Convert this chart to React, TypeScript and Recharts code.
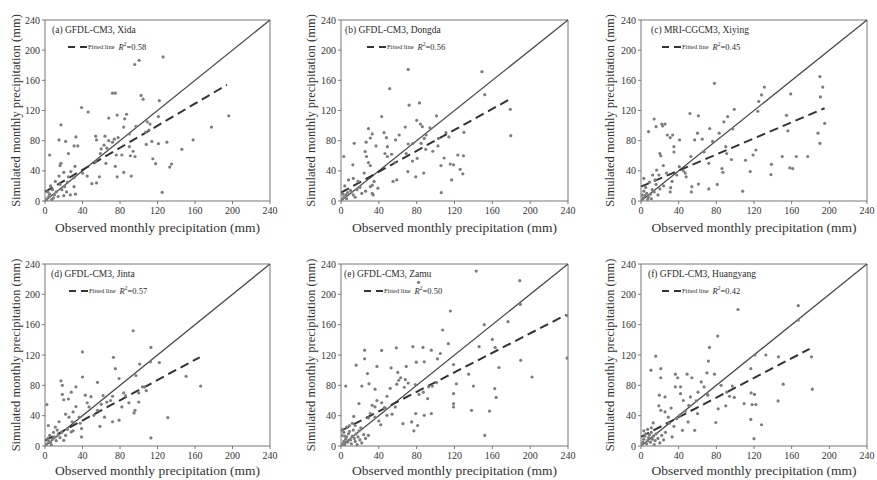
import { ScatterChart, Scatter, XAxis, YAxis, ReferenceLine, Legend } from "recharts";

const FONT = '"Liberation Serif", "Times New Roman", serif';

const axisTicks = [0, 40, 80, 120, 160, 200, 240];

const panelTitles = [
  "(a) GFDL-CM3, Xida",
  "(b) GFDL-CM3, Dongda",
  "(c) MRI-CGCM3, Xiying",
  "(d) GFDL-CM3, Jinta",
  "(e) GFDL-CM3, Zamu",
  "(f) GFDL-CM3, Huangyang",
];

const rSquared = ["0.58", "0.56", "0.45", "0.57", "0.50", "0.42"];

// fitted line end points: [obs0, sim0, obs1, sim1]
const fitLines = [
  [0, 12, 194, 154],
  [0, 11, 180, 136],
  [0, 19, 195, 123],
  [0, 7, 165, 117],
  [0, 20, 238, 173],
  [0, 12, 179, 128],
];

// observed, simulated (mm)
const xidaPts = [
  [95.7, 181], [100.4, 186.5], [126, 191], [72, 143], [75, 143], [39, 124], [46, 118], [102.5, 140],
  [104.6, 135], [122, 133], [87, 115], [77, 114], [68, 110], [85, 109], [17, 101], [97, 99], [121, 112],
  [109, 105], [112, 102], [84, 98], [111, 94], [107.5, 91.5], [130, 78], [121, 76], [108, 75], [114, 79],
  [74, 82], [78, 84], [64, 86], [54, 86], [55, 81], [33, 85], [15, 81], [22, 79], [31, 73], [35, 73],
  [25, 63], [63, 74], [66, 70], [59, 63], [60, 69], [76, 61], [82, 61], [90, 89], [90, 72], [94, 66],
  [91, 60], [96, 59], [177.5, 98], [196, 113], [158, 81], [146, 68.5], [115, 56], [118, 49.5], [135, 49],
  [133, 45], [125, 11.5], [40, 37], [45, 33], [50, 23], [55, 24], [58, 32], [75, 46], [77, 32], [84, 38],
  [92, 33], [54, 52], [65, 50], [17, 50], [16, 47], [20, 38], [15, 33], [16, 22], [25, 32], [27.5, 39],
  [32, 46], [31, 31], [31, 19], [32.5, 9], [5, 61], [68, 80], [72, 78], [2, 3], [4, 6], [5, 9], [9, 4],
  [10, 8], [12, 12], [2, 1], [1, 0.5], [7, 2], [14, 6], [18, 15], [21, 19], [23, 12], [27, 8], [20, 7],
  [3, 12], [8, 15], [6, 20], [11, 26], [24, 25],
];

const dongdaPts = [
  [71, 174.5], [149, 171.5], [152, 141], [179, 121.5], [179.5, 86.6], [51.5, 149], [72, 127], [83, 130],
  [43, 112], [101, 113], [29, 96], [68, 98], [80, 107], [84, 102], [86, 98.5], [61.5, 87.5], [45.5, 90.6],
  [33, 89], [31, 83.5], [37, 73], [48, 84], [49, 72], [46.5, 63], [49, 59], [14, 76.5], [25.5, 65.5],
  [27, 59], [26.6, 78], [3, 59], [12.6, 48], [24.5, 37], [31, 47], [29, 51], [53.5, 62], [57.7, 81],
  [71, 75.6], [76, 76.5], [69, 63], [75.6, 53], [70.7, 39], [79, 32], [80.5, 56.6], [84.7, 76.5], [88, 83],
  [90, 87.5], [89.6, 68.5], [94, 97], [87.5, 37], [97, 66], [102.5, 73], [103, 83], [105.7, 47], [106, 11],
  [109, 57], [111, 90.6], [114, 85], [115.5, 49], [117, 28], [119, 48], [123.5, 61], [126, 42], [128.8, 36],
  [129.5, 60], [130, 91], [57, 51], [55, 26], [59, 28], [33, 10], [1, 2], [3, 5], [5, 8], [7, 11], [10, 14],
  [11, 12], [13, 8], [15, 5], [17, 15], [20, 18], [22, 10], [26, 13], [31, 19], [33, 21], [35, 26], [39, 17],
  [34, 8], [18, 26], [13, 30], [8, 28], [4, 20], [6, 3], [2, 9],
];

const xiyingPts = [
  [190, 165], [193, 151], [190.5, 138], [195, 103], [188, 90], [190, 76.5], [131, 151], [128, 140.6],
  [125, 132], [124, 119], [159, 142], [154.5, 113.6], [156, 93], [158, 44], [161, 43], [150, 59], [165, 59],
  [177, 59], [138, 35], [138.5, 48.6], [99, 121.5], [92, 112], [88, 105], [97.5, 95.5], [78, 156], [52, 116],
  [61, 113], [57, 81], [60, 90], [65, 82], [73, 96], [76, 79], [83, 90], [90, 72], [91, 63], [96, 55],
  [86, 43], [87, 38], [81, 22], [72, 16], [72, 50], [67, 65], [53, 59], [54, 19], [53.5, 12], [61, 22.5],
  [41, 81], [31, 84], [33.6, 87.5], [28, 87.5], [23, 99.5], [25.5, 102], [22, 102], [14, 108.7], [16, 98.5],
  [8, 92], [35, 72], [35, 65], [20, 63], [21, 60], [23.7, 47], [27, 37], [19, 34.5], [16.6, 41], [12.4, 34.5],
  [33, 26], [31.5, 17.7], [31, 12], [38, 34.5], [40.6, 45.5], [48, 32], [108, 13], [116, 39], [119, 61],
  [122, 67.6], [111, 54], [45, 40], [47, 37], [1, 1], [2, 4], [4, 7], [6, 10], [3, 13], [8, 5], [10, 9],
  [12, 15], [5, 18], [14, 12], [16, 22], [9, 25], [18, 8], [20, 16], [1, 8], [7, 2], [11, 3], [24, 20],
  [3, 30], [15, 28],
];

const jintaPts = [
  [94, 152], [113, 130], [40, 124], [73, 117], [75, 102], [112.5, 111], [122, 110], [101, 108], [17, 86],
  [40, 91], [56, 84], [79, 89], [97, 93], [150.5, 92], [166, 79], [18.5, 80], [18.5, 68], [33, 78], [28, 71],
  [25, 62], [20, 61], [49, 65], [43, 67], [47, 51.5], [62, 66.5], [72, 65.6], [70, 60], [72, 32], [79, 34],
  [82, 51.5], [89.5, 57], [96, 47], [95, 43.6], [100, 58], [104, 78], [131, 37.4], [113, 10.6], [100, 70],
  [2, 54.6], [3.5, 27], [11, 25], [15, 32], [25.6, 38], [29, 32], [36.5, 38], [37.6, 30], [39, 23], [39, 12],
  [52, 40.5], [56, 47], [58.6, 26], [63.5, 38], [20, 7.5], [28, 18.5], [22, 42], [30, 45], [33, 52], [45, 57],
  [60, 55], [66, 58], [84, 70], [86, 66], [108, 73], [106, 78], [1, 1], [2, 3], [4, 6], [6, 4], [8, 9],
  [10, 12], [12, 7], [14, 15], [3, 10], [5, 14], [16, 11], [18, 18], [22, 14], [7, 1], [9, 18], [24, 22],
  [30, 20], [13, 21],
];

const zamuPts = [
  [143, 230.7], [189, 218], [82, 215.8], [189.6, 186.7], [115.6, 178], [107.5, 153], [151.5, 160],
  [176.6, 164], [239, 172], [160, 140.5], [163, 130], [146, 131], [113.5, 135], [105, 122], [95.5, 126.4],
  [86.7, 130], [76, 131], [58.5, 129.5], [43, 126], [25, 126.4], [25, 115], [16, 106.6], [38, 105], [53, 103],
  [60, 97], [69, 105], [79.6, 110.5], [88, 111], [102, 115], [119, 107.4], [119, 69], [119, 56], [119, 51.5],
  [122, 82], [135, 94.7], [140, 79], [162.5, 75.7], [164, 64], [167, 103.5], [190, 113], [202, 91], [239, 116],
  [138, 47], [157, 46], [152, 14], [28, 95.5], [22, 79], [29.6, 82], [36, 75], [52, 76], [59, 81.5],
  [61, 86.7], [63, 90], [68, 87.6], [67, 77.5], [71, 83], [78.6, 81], [82.5, 68], [87, 71], [92.7, 78],
  [91.6, 62.5], [96.5, 79], [101, 83.7], [95.5, 42.7], [88, 40.5], [74.7, 31.7], [79, 42.7], [77, 20], [81, 27],
  [65.5, 29.5], [57.4, 51.5], [54, 42], [48.6, 65.6], [45.8, 50.6], [43, 57], [38, 60], [36, 51.5], [33, 53.7],
  [31, 42.7], [36, 38], [29, 37], [40, 33], [42, 28], [48.6, 40.5], [19, 56], [13.4, 39], [5, 79], [29, 14],
  [1, 1], [2, 3], [3, 6], [4, 2], [5, 9], [6, 12], [7, 5], [8, 16], [9, 19], [10, 8], [11, 3], [12, 13],
  [13, 21], [14, 10], [15, 6], [16, 16], [17, 2], [18, 12], [19, 20], [20, 8], [21, 24], [22, 4], [24, 15],
  [26, 10], [3, 18], [2, 22], [6, 25], [9, 27], [12, 30], [15, 27], [1, 14], [4, 13],
];

const huangyangPts = [
  [167, 185], [167, 166], [103, 180], [81.5, 145], [72.7, 130], [71.6, 112], [15.6, 118.5], [121, 120],
  [132.6, 120], [146, 117.6], [181, 117.6], [182, 75], [151, 81.5], [145.6, 59.5], [116.6, 102], [120.5, 68],
  [117, 70], [118, 54.6], [122, 54.6], [116.6, 35], [128, 28], [109.5, 56], [120, 9.7], [99, 64], [97, 79],
  [85, 80], [78, 94.7], [90, 53], [82, 49], [79.4, 31], [70.5, 68], [70, 96.5], [64, 84.5], [67, 78],
  [60.6, 71], [58.5, 59.5], [52.5, 64.7], [50.7, 53.7], [47, 46], [42, 69], [42, 78], [36.5, 78], [39, 90],
  [36.5, 94.7], [49, 94.7], [54, 90], [25.5, 64.7], [19.5, 67], [19, 53], [21, 47], [25.5, 45], [29, 38],
  [30, 30], [35, 26], [38, 36], [33, 12], [57, 20.7], [50, 31.7], [44, 20.7], [21, 90], [21, 102], [10.6, 100],
  [13, 30.4], [41, 40.5], [60, 42.7], [71, 67], [91, 71], [94, 65.6], [32, 50], [45, 60], [1, 2], [2, 5],
  [3, 9], [4, 13], [5, 16], [6, 3], [7, 7], [8, 11], [9, 15], [10, 5], [11, 18], [12, 9], [13, 13], [14, 2],
  [15, 7], [16, 16], [18, 10], [20, 4], [22, 14], [24, 8], [26, 18], [3, 20], [7, 22], [11, 24],
];

const panelPoints = [xidaPts, dongdaPts, xiyingPts, jintaPts, zamuPts, huangyangPts];

// layout
const cols = [
  { left: 0, width: 290, right: 20, yTitle: 16 },
  { left: 296, width: 290, right: 18, yTitle: 15 },
  { left: 596, width: 281, right: 10, yTitle: 13.5 },
];
const rows = [
  { top: 0, height: 240, axisH: 39, xTitle: 8 },
  { top: 244, height: 236, axisH: 34, xTitle: 5 },
];
const titleOffsets = [7, 4, 10, 6, 3, 7];
const dashOffsets = [23, 26, 21, 24, 23, 21];

const dot = (p: any) => <circle cx={p.cx} cy={p.cy} r={1.6} fill="#7d7d7d" />;

function PanelLegend({ idx }: { idx: number }) {
  return (
    <div style={{ fontFamily: FONT, color: "#2a2a2a", lineHeight: 1 }}>
      <div style={{ fontSize: 9.5, height: 12, lineHeight: "12px", marginLeft: titleOffsets[idx], whiteSpace: "nowrap" }}>
        {panelTitles[idx]}
      </div>
      <div style={{ display: "flex", alignItems: "center", marginTop: 6, marginLeft: dashOffsets[idx], height: 10, whiteSpace: "nowrap" }}>
        <svg width={19} height={4} style={{ display: "block" }}>
          <line x1={0} y1={2} x2={19} y2={2} stroke="#333" strokeWidth={2} strokeDasharray="7 5" />
        </svg>
        <span style={{ fontSize: 6.5, marginLeft: 1 }}>Fitted line</span>
        <span style={{ fontSize: 8.5, marginLeft: 4 }}>
          <i>R</i>
          <sup style={{ fontSize: 5.5 }}>2</sup>=<span>{rSquared[idx]}</span>
        </span>
      </div>
    </div>
  );
}

function Panel({ idx }: { idx: number }) {
  const col = cols[idx % 3];
  const row = rows[Math.floor(idx / 3)];
  const data = panelPoints[idx].map(([obs, sim]) => ({ obs, sim }));
  const [fx0, fy0, fx1, fy1] = fitLines[idx];
  const tickStyle = { fontFamily: FONT, fontSize: 10, fill: "#333" };

  return (
    <div style={{ position: "absolute", left: col.left, top: row.top }}>
      <ScatterChart
        width={col.width}
        height={row.height}
        margin={{ top: 20, right: col.right, bottom: 0, left: 0 }}
      >
        <XAxis
          type="number"
          dataKey="obs"
          domain={[0, 240]}
          ticks={axisTicks}
          allowDataOverflow
          height={row.axisH}
          tickSize={3}
          tickMargin={3}
          tick={tickStyle}
          stroke="#777"
          label={{
            value: "Observed monthly precipitation (mm)",
            position: "insideBottom",
            offset: row.xTitle,
            style: { fontFamily: FONT, fontSize: 13.5, fill: "#333" },
          }}
        />
        <YAxis
          type="number"
          dataKey="sim"
          domain={[0, 240]}
          ticks={axisTicks}
          allowDataOverflow
          width={45}
          tickSize={3}
          tickMargin={2}
          tick={tickStyle}
          stroke="#777"
          label={{
            value: "Simulated monthly precipitation (mm)",
            angle: -90,
            position: "insideLeft",
            offset: col.yTitle,
            style: { fontFamily: FONT, fontSize: 12.5, fill: "#333", textAnchor: "middle" },
          }}
        />
        <ReferenceLine y={240} stroke="#777" />
        <ReferenceLine x={240} stroke="#777" />
        <Scatter data={data} shape={dot} isAnimationActive={false} />
        <ReferenceLine
          segment={[{ x: 0, y: 0 }, { x: 240, y: 240 }]}
          stroke="#4a4a4a"
          strokeWidth={1.3}
        />
        <ReferenceLine
          segment={[{ x: fx0, y: fy0 }, { x: fx1, y: fy1 }]}
          stroke="#333"
          strokeWidth={2}
          strokeDasharray="9 5"
        />
        <Legend
          verticalAlign="middle"
          align="center"
          layout="horizontal"
          content={() => <PanelLegend idx={idx} />}
          wrapperStyle={{ left: 45, top: 24, width: "auto", height: "auto" }}
        />
      </ScatterChart>
    </div>
  );
}

export default function App() {
  return (
    <div style={{ position: "absolute", left: 0, top: 0, width: 877, height: 480, background: "#fff" }}>
      {[0, 1, 2, 3, 4, 5].map((i) => (
        <Panel key={i} idx={i} />
      ))}
    </div>
  );
}
